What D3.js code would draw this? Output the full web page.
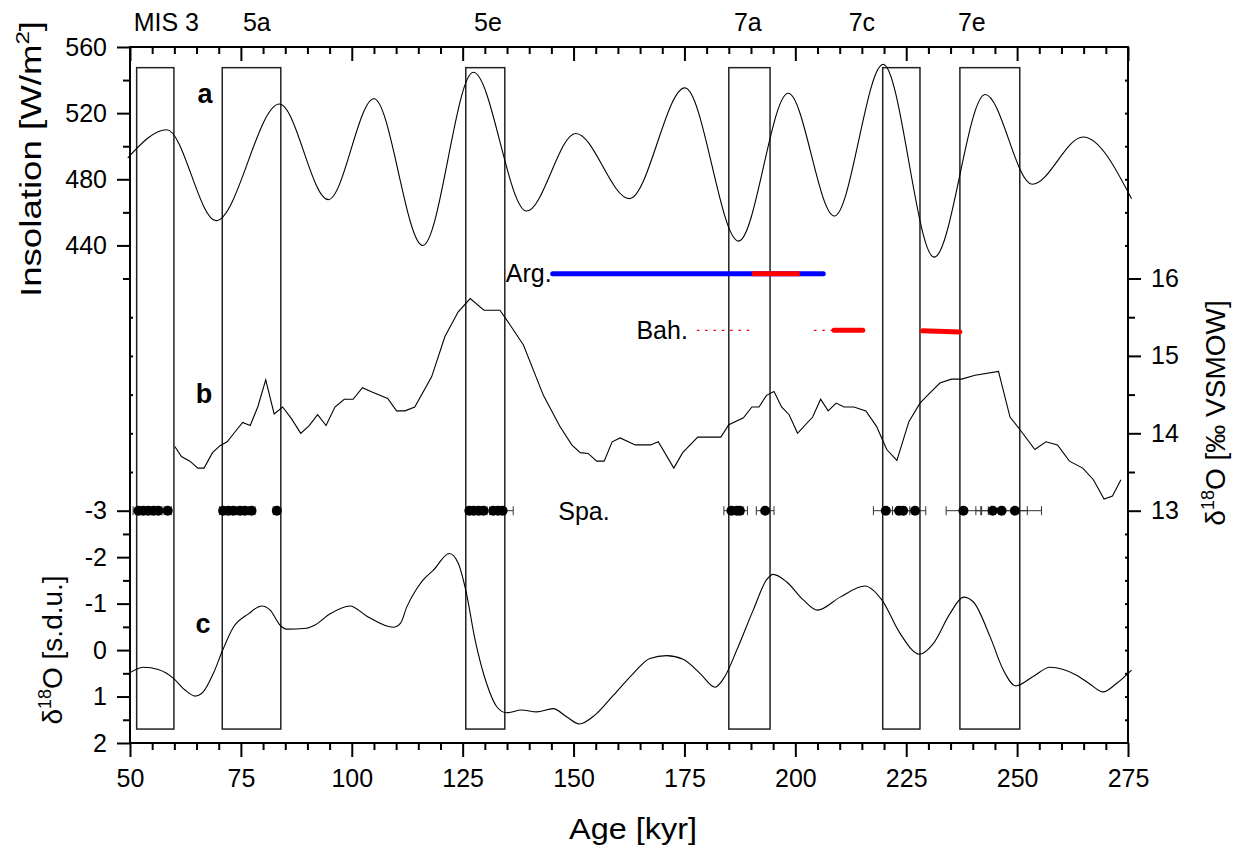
<!DOCTYPE html>
<html>
<head>
<meta charset="utf-8">
<script src="https://cdn.jsdelivr.net/npm/d3@7"></script>
<style>
html,body{margin:0;padding:0;background:#fff;}
svg{display:block;font-family:"Liberation Sans",Arial,sans-serif;}
</style>
</head>
<body>
<svg id="chart" width="1236" height="848"></svg>
<script>
// ---------------- DATA ----------------
const xTicksMajor = [50, 75, 100, 125, 150, 175, 200, 225, 250, 275];
const insTicks = [440, 480, 520, 560];
const vsmowTicks = [13, 14, 15, 16];
const sduTicks = [-3, -2, -1, 0, 1, 2];

// MIS stage boxes (kyr)
const misLabels = ["MIS 3", "5a", "5e", "7a", "7c", "7e"];
const misLabelAge = [58.2, 78.6, 130.7, 189.3, 215.0, 239.8];
const misStart = [51.5, 70.8, 125.7, 185.0, 219.7, 237.1];
const misEnd = [59.9, 84.0, 134.5, 194.3, 228.1, 250.6];
const boxTopIns = 547.5;   // box top in insolation units
const boxBottomSdu = 1.7;  // box bottom in s.d.u. units

// (a) Insolation [W/m2]
const insAge = [49.5, 58.3, 69.4, 83.7, 94.7, 105.0, 116.0, 127.4, 139.4, 150.5, 162.6, 175.1, 187.2, 198.4, 208.8, 219.8, 231.3, 242.8, 253.4, 264.9, 275.8];
const insVal = [493, 510, 455, 525.5, 467.7, 528.7, 440, 544.7, 460.8, 507.7, 468.3, 535.3, 442.6, 532, 457.8, 549.5, 432.9, 531.3, 477, 505.6, 468.3];

// (b) δ18O [‰ VSMOW]
const bAge = [60.1, 61.6, 63.5, 65.3, 66.7, 68.6, 70.3, 71.9, 73.7, 75.4, 77.1, 78.8, 80.6, 82.5, 84.4, 86.4, 88.5, 90.4, 92.3, 94.2, 96.2, 98.3, 100.3, 102.4, 104.3, 108.1, 110.1, 112.0, 114.2, 118.0, 121.0, 124.0, 126.7, 129.8, 133.4, 135.7, 138.7, 143.2, 146.9, 149.6, 151.5, 153.3, 155.2, 156.9, 158.7, 160.5, 163.9, 167.4, 169.1, 172.6, 174.6, 178.0, 183.2, 185.0, 188.3, 190.2, 191.8, 193.5, 195.2, 196.9, 198.6, 200.5, 203.9, 205.7, 207.4, 209.2, 211.0, 213.2, 215.9, 218.3, 220.6, 222.9, 225.6, 228.1, 230.3, 232.6, 235.2, 237.5, 240.5, 245.8, 248.4, 251.0, 254.0, 256.5, 259.1, 261.8, 264.8, 267.2, 269.6, 271.5, 273.4];
const bVal = [13.83, 13.70, 13.64, 13.55, 13.55, 13.75, 13.84, 13.89, 14.02, 14.14, 14.10, 14.34, 14.69, 14.25, 14.34, 14.19, 14.00, 14.10, 14.24, 14.10, 14.34, 14.44, 14.44, 14.59, 14.54, 14.45, 14.29, 14.29, 14.34, 14.73, 15.25, 15.57, 15.74, 15.59, 15.59, 15.40, 15.14, 14.49, 14.09, 13.85, 13.75, 13.74, 13.64, 13.64, 13.89, 13.94, 13.85, 13.85, 13.89, 13.55, 13.75, 13.95, 13.95, 14.11, 14.20, 14.34, 14.34, 14.49, 14.54, 14.34, 14.24, 14.00, 14.21, 14.44, 14.29, 14.39, 14.34, 14.34, 14.29, 14.09, 13.79, 13.65, 14.15, 14.39, 14.52, 14.65, 14.70, 14.70, 14.75, 14.80, 14.21, 14.02, 13.79, 13.89, 13.85, 13.64, 13.55, 13.40, 13.15, 13.19, 13.40];

// (c) δ18O [s.d.u.]
const cAge = [49.5, 53.0, 56.4, 59.8, 62.4, 64.7, 66.5, 68.8, 70.9, 73.3, 76.7, 79.7, 81.6, 83.8, 85.3, 89.8, 91.7, 95.1, 99.6, 103.4, 109.4, 111.0, 112.4, 114.5, 116.1, 118.4, 122.0, 124.0, 125.7, 127.8, 130.4, 132.7, 134.9, 138.3, 141.7, 145.4, 148.5, 151.3, 154.8, 159.0, 163.5, 167.2, 171.0, 174.7, 178.5, 181.9, 184.1, 186.8, 190.5, 193.5, 195.0, 198.0, 201.8, 205.0, 210.1, 215.7, 219.5, 223.6, 228.0, 231.1, 234.9, 237.9, 240.1, 243.9, 246.9, 249.7, 253.6, 257.4, 263.4, 266.4, 269.4, 272.4, 275.8];
const cVal = [0.52, 0.37, 0.42, 0.61, 0.86, 0.99, 0.90, 0.50, 0.00, -0.49, -0.78, -0.95, -0.86, -0.54, -0.45, -0.47, -0.54, -0.78, -0.95, -0.73, -0.49, -0.58, -0.93, -1.30, -1.51, -1.72, -2.08, -1.87, -1.29, -0.22, 0.72, 1.22, 1.35, 1.29, 1.33, 1.26, 1.44, 1.59, 1.40, 0.97, 0.50, 0.18, 0.12, 0.20, 0.50, 0.80, 0.57, 0.00, -0.86, -1.51, -1.63, -1.47, -1.08, -0.86, -1.14, -1.38, -1.08, -0.36, 0.09, -0.14, -0.79, -1.14, -1.04, -0.29, 0.43, 0.77, 0.57, 0.37, 0.54, 0.73, 0.90, 0.72, 0.43];

// Argentarola (VSMOW level) segments
const argBlue = [145.3, 206.3];
const argRed = [190.2, 201.0];
const argLevel = 16.06;
// Bahamas segments
const bahDotted = [[177.8, 189.8], [204.2, 208.7]];
const bahThick = [[208.7, 215.2, 15.33, 15.33], [228.7, 237.1, 15.325, 15.31]];
const bahLevel = 15.33;

// Spannagel ages and half-errors (kyr)
const spaAge = [51.9, 53.0, 54.1, 55.3, 56.4, 58.5, 71.0, 72.2, 73.3, 74.8, 75.9, 77.4, 83.1, 126.5, 127.5, 128.6, 129.7, 131.9, 133.0, 134.0, 185.6, 186.8, 187.5, 193.2, 220.4, 223.4, 224.3, 227.0, 237.9, 244.5, 246.5, 249.5];
const spaErr = [1.2, 0.8, 0.8, 0.8, 0.8, 0.8, 0.8, 0.8, 0.8, 0.8, 0.8, 0.8, 0.8, 0.8, 0.8, 0.8, 0.8, 0.8, 1.0, 2.4, 1.7, 1.4, 1.7, 2.0, 2.8, 1.5, 1.5, 2.4, 3.9, 2.5, 5.8, 6.0];
const spaLevel = 13;

// ---------------- LAYOUT ----------------
const L = 130, R = 1128, T = 47, B = 743;
const svg = d3.select("#chart");
const FONT = '"Liberation Sans", Arial, sans-serif';

const x = d3.scaleLinear([50, 275], [L, R]);
const yIns = d3.scaleLinear([420, 560], [278.5, T]);
const yVs = d3.scaleLinear([13, 16], [510.7, 278.5]);
const ySdu = d3.scaleLinear([-3, 2], [510.7, B]);

const range = (a, b, s) => d3.range(a, b + s / 2, s);

// ---------------- BOXES ----------------
svg.append("g").selectAll("rect").data(misStart).join("rect")
  .attr("x", (d) => x(d))
  .attr("y", yIns(boxTopIns))
  .attr("width", (d, i) => x(misEnd[i]) - x(d))
  .attr("height", ySdu(boxBottomSdu) - yIns(boxTopIns))
  .attr("fill", "none").attr("stroke", "#222").attr("stroke-width", 1.5);

// ---------------- CURVES ----------------
const lineIns = d3.line().x((d, i) => x(insAge[i])).y((d) => yIns(d)).curve(d3.curveMonotoneX);
svg.append("path").attr("d", lineIns(insVal)).attr("fill", "none").attr("stroke", "#000").attr("stroke-width", 1.1);

const lineB = d3.line().x((d, i) => x(bAge[i])).y((d) => yVs(d));
svg.append("path").attr("d", lineB(bVal)).attr("fill", "none").attr("stroke", "#000").attr("stroke-width", 1.1);

const lineC = d3.line().x((d, i) => x(cAge[i])).y((d) => ySdu(d)).curve(d3.curveMonotoneX);
svg.append("path").attr("d", lineC(cVal)).attr("fill", "none").attr("stroke", "#000").attr("stroke-width", 1.1);

// ---------------- ARG / BAH ----------------
svg.append("line").attr("x1", x(argBlue[0])).attr("x2", x(argBlue[1]))
  .attr("y1", yVs(argLevel)).attr("y2", yVs(argLevel))
  .attr("stroke", "#0000ff").attr("stroke-width", 5).attr("stroke-linecap", "round");
svg.append("line").attr("x1", x(argRed[0])).attr("x2", x(argRed[1]))
  .attr("y1", yVs(argLevel)).attr("y2", yVs(argLevel))
  .attr("stroke", "#ff0000").attr("stroke-width", 5);

svg.append("g").selectAll("line").data(bahDotted).join("line")
  .attr("x1", (d) => x(d[0])).attr("x2", (d) => x(d[1]))
  .attr("y1", yVs(bahLevel)).attr("y2", yVs(bahLevel))
  .attr("stroke", "#ff0000").attr("stroke-width", 1.3).attr("stroke-dasharray", "2.5,5.8");
svg.append("g").selectAll("line").data(bahThick).join("line")
  .attr("x1", (d) => x(d[0])).attr("x2", (d) => x(d[1]))
  .attr("y1", (d) => yVs(d[2])).attr("y2", (d) => yVs(d[3]))
  .attr("stroke", "#ff0000").attr("stroke-width", 5).attr("stroke-linecap", "round");

// ---------------- SPA ----------------
const gSpa = svg.append("g");
const ySpa = yVs(spaLevel);
spaAge.forEach((a, i) => {
  const e = spaErr[i];
  gSpa.append("line").attr("x1", x(a - e)).attr("x2", x(a + e)).attr("y1", ySpa).attr("y2", ySpa)
    .attr("stroke", "#333").attr("stroke-width", 1);
  [a - e, a + e].forEach((v) => {
    gSpa.append("line").attr("x1", x(v)).attr("x2", x(v)).attr("y1", ySpa - 4.5).attr("y2", ySpa + 4.5)
      .attr("stroke", "#333").attr("stroke-width", 1);
  });
});
gSpa.selectAll("circle").data(spaAge).join("circle")
  .attr("cx", (d) => x(d)).attr("cy", ySpa).attr("r", 5).attr("fill", "#000");

// ---------------- AXES ----------------
function styleAxis(g, fs) {
  g.select(".domain").remove();
  g.selectAll(".tick line").attr("stroke", "#000").attr("stroke-width", 2);
  g.selectAll(".tick text").attr("fill", "#000").style("font-family", FONT).style("font-size", fs + "px");
}
const fmt = (d) => String(d);
const TS = 25;

// bottom
svg.append("g").attr("transform", `translate(0,${B})`)
  .call(d3.axisBottom(x).tickValues(xTicksMajor).tickSize(14).tickPadding(12).tickFormat(fmt))
  .call((g) => styleAxis(g, TS));
svg.append("g").attr("transform", `translate(0,${B})`)
  .call(d3.axisBottom(x).tickValues(range(55, 270, 5).filter((v) => v % 25 !== 0)).tickSize(7).tickFormat(""))
  .call((g) => styleAxis(g, TS));
// top (inward)
svg.append("g").attr("transform", `translate(0,${T})`)
  .call(d3.axisBottom(x).tickValues(xTicksMajor).tickSize(14).tickFormat(""))
  .call((g) => styleAxis(g, TS));
svg.append("g").attr("transform", `translate(0,${T})`)
  .call(d3.axisBottom(x).tickValues(range(55, 270, 5).filter((v) => v % 25 !== 0)).tickSize(7).tickFormat(""))
  .call((g) => styleAxis(g, TS));

// left insolation
svg.append("g").attr("transform", `translate(${L},0)`)
  .call(d3.axisLeft(yIns).tickValues(insTicks).tickSize(13).tickPadding(10).tickFormat(fmt))
  .call((g) => styleAxis(g, TS));
svg.append("g").attr("transform", `translate(${L},0)`)
  .call(d3.axisLeft(yIns).tickValues([420, 460, 500, 540]).tickSize(7).tickFormat(""))
  .call((g) => styleAxis(g, TS));
// left s.d.u.
svg.append("g").attr("transform", `translate(${L},0)`)
  .call(d3.axisLeft(ySdu).tickValues(sduTicks).tickSize(13).tickPadding(10).tickFormat(fmt))
  .call((g) => styleAxis(g, TS));
svg.append("g").attr("transform", `translate(${L},0)`)
  .call(d3.axisLeft(ySdu).tickValues(range(-2.5, 1.5, 1)).tickSize(7).tickFormat(""))
  .call((g) => styleAxis(g, TS));
// left inner tiny ticks (mirror of VSMOW)
svg.append("g").attr("transform", `translate(${L},0)`)
  .call(d3.axisRight(yVs).tickValues(range(13.5, 15.5, 0.5)).tickSize(3).tickFormat(""))
  .call((g) => styleAxis(g, TS));

// right VSMOW
svg.append("g").attr("transform", `translate(${R},0)`)
  .call(d3.axisRight(yVs).tickValues(vsmowTicks).tickSize(13).tickPadding(10).tickFormat(fmt))
  .call((g) => styleAxis(g, TS));
svg.append("g").attr("transform", `translate(${R},0)`)
  .call(d3.axisRight(yVs).tickValues([13.5, 14.5, 15.5]).tickSize(7).tickFormat(""))
  .call((g) => styleAxis(g, TS));
// right inner tiny ticks (mirror of insolation and s.d.u.)
svg.append("g").attr("transform", `translate(${R},0)`)
  .call(d3.axisLeft(yIns).tickValues(range(440, 540, 20)).tickSize(3).tickFormat(""))
  .call((g) => styleAxis(g, TS));
svg.append("g").attr("transform", `translate(${R},0)`)
  .call(d3.axisLeft(ySdu).tickValues(range(-2.5, 1.5, 0.5)).tickSize(3).tickFormat(""))
  .call((g) => styleAxis(g, TS));

// frame
svg.append("rect").attr("x", L).attr("y", T).attr("width", R - L).attr("height", B - T)
  .attr("fill", "none").attr("stroke", "#000").attr("stroke-width", 2);

// ---------------- TEXT ----------------
const txt = (xp, yp, s, fs, anchor, weight) => svg.append("text")
  .attr("x", xp).attr("y", yp).attr("text-anchor", anchor || "middle")
  .style("font-family", FONT).style("font-size", fs + "px").style("font-weight", weight || "normal")
  .attr("fill", "#000").text(s);

// stage labels
misLabels.forEach((s, i) => txt(x(misLabelAge[i]), 31, s, 25));

// panel letters
const pxToAge = (p) => x.invert(p);
txt(x(pxToAge(205)), 103, "a", 27, "middle", "bold");
txt(x(pxToAge(204)), 403, "b", 27, "middle", "bold");
txt(x(pxToAge(203)), 633, "c", 27, "middle", "bold");

// series labels
txt(x(argBlue[0]) - 1, yVs(argLevel) + 8, "Arg.", 25, "end");
txt(x(bahDotted[0][0]) - 9, yVs(bahLevel) + 8.5, "Bah.", 25, "end");
txt(584, ySpa + 9, "Spa.", 25, "middle");

// axis titles
svg.append("text").attr("transform", "translate(41,159) rotate(-90)")
  .attr("text-anchor", "middle").style("font-family", FONT).style("font-size", "29px")
  .attr("textLength", 276).attr("lengthAdjust", "spacingAndGlyphs")
  .call((t) => {
    t.append("tspan").text("Insolation [W/m");
    t.append("tspan").attr("dy", -12).style("font-size", "19px").text("2");
    t.append("tspan").attr("dy", 12).text("]");
  });
svg.append("text").attr("transform", "translate(62,650) rotate(-90)")
  .attr("text-anchor", "middle").style("font-family", FONT).style("font-size", "28px")
  .call((t) => {
    t.append("tspan").text("δ");
    t.append("tspan").attr("dy", -11).style("font-size", "18px").text("18");
    t.append("tspan").attr("dy", 11).text("O [s.d.u.]");
  });
svg.append("text").attr("transform", "translate(1225,413) rotate(-90)")
  .attr("text-anchor", "middle").style("font-family", FONT).style("font-size", "28px")
  .call((t) => {
    t.append("tspan").text("δ");
    t.append("tspan").attr("dy", -11).style("font-size", "18px").text("18");
    t.append("tspan").attr("dy", 11).text("O [‰ VSMOW]");
  });
svg.append("text").attr("x", 633).attr("y", 839).attr("text-anchor", "middle")
  .style("font-family", FONT).style("font-size", "30px")
  .attr("textLength", 128).attr("lengthAdjust", "spacingAndGlyphs").text("Age [kyr]");
</script>
</body>
</html>
